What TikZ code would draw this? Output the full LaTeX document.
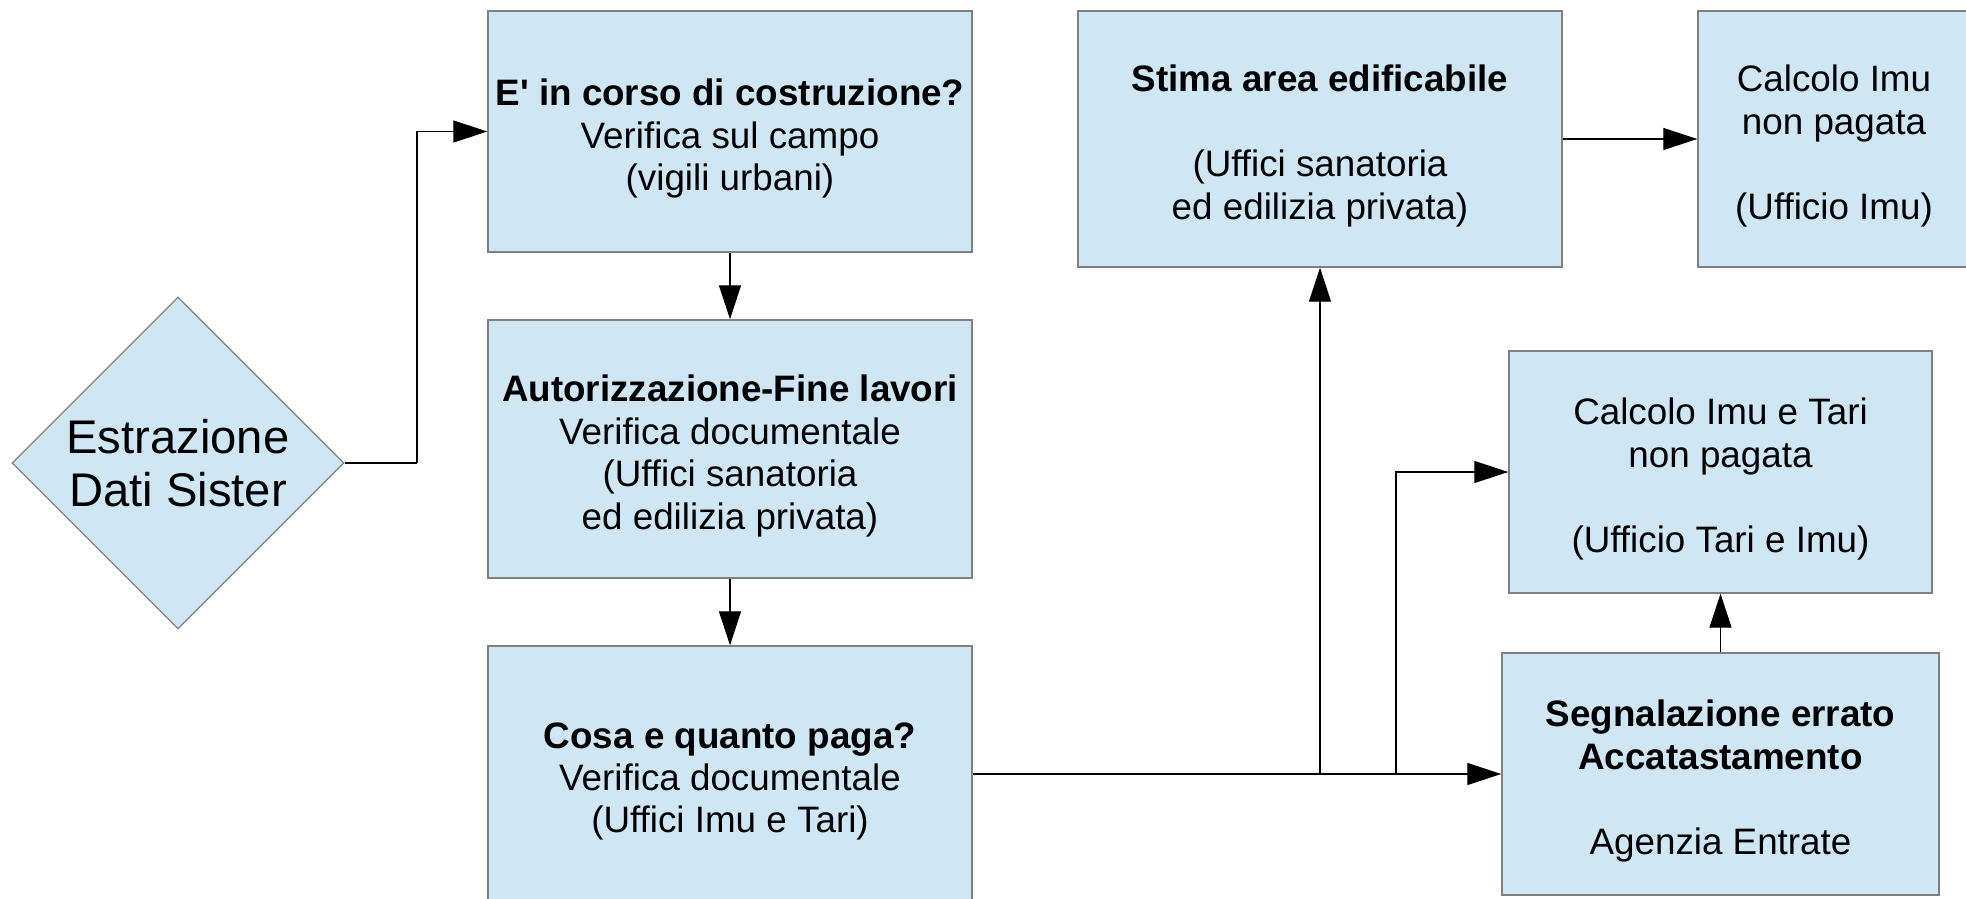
\documentclass[tikz,border=0pt]{standalone}
\usepackage{fontspec}
\setmainfont{Liberation Sans}
\usetikzlibrary{arrows.meta,shapes.geometric}
\definecolor{boxfill}{HTML}{CFE7F5}
\definecolor{boxline}{HTML}{808080}
\newcommand\mytopstrut{\rule{0pt}{20.4pt}}
\newcommand\straightquote{\XeTeXglyph\XeTeXcharglyph"0027\relax}
\tikzset{
  box/.style={draw=boxline, line width=0.7pt, fill=boxfill, inner sep=0pt,
    align=center, font=\fontsize{18.4pt}{21.2pt}\selectfont},
  dia/.style={diamond, draw=boxline, line width=0.6pt, fill=boxfill, inner sep=0pt,
    shape aspect=1, minimum width=166pt, minimum height=166pt, align=center,
    font=\fontsize{23.6pt}{26.5pt}\selectfont},
  conn/.style={draw=black, line width=0.6pt, -{Triangle[length=17pt,width=11pt]}},
  plain/.style={draw=black, line width=0.6pt}
}
\begin{document}
\begin{tikzpicture}[x=0.5pt,y=-0.5pt]
\useasboundingbox (0,0) rectangle (1966,899);
\node[dia] (d) at (178,463) {Estrazione\\Dati Sister};
\node[box, minimum width=242pt, minimum height=120.5pt] (b1) at (730,131.5)
  {\mytopstrut\textbf{E\straightquote{} in corso di costruzione?}\\Verifica sul campo\\(vigili urbani)};
\node[box, minimum width=242pt, minimum height=129pt] (b2) at (730,449)
  {\mytopstrut\textbf{Autorizzazione-Fine lavori}\\Verifica documentale\\(Uffici sanatoria\\ed edilizia privata)};
\node[box, minimum width=242pt, minimum height=128pt] (b3) at (730,774)
  {\mytopstrut\textbf{Cosa e quanto paga?}\\Verifica documentale\\(Uffici Imu e Tari)};
\node[box, minimum width=242pt, minimum height=128pt] (b4) at (1320,139)
  {\mytopstrut\textbf{Stima area edificabile}\\~\\(Uffici sanatoria\\ed edilizia privata)};
\node[box, minimum width=136pt, minimum height=128pt] (b5) at (1834,139)
  {\mytopstrut Calcolo Imu\\non pagata\\~\\(Ufficio Imu)};
\node[box, minimum width=211.5pt, minimum height=121pt] (b6) at (1720.5,472)
  {\mytopstrut Calcolo Imu e Tari\\non pagata\\~\\(Ufficio Tari e Imu)};
\node[box, minimum width=218.5pt, minimum height=121pt] (b7) at (1720.5,774)
  {\mytopstrut\textbf{Segnalazione errato}\\\textbf{Accatastamento}\\~\\Agenzia Entrate};
\coordinate (c1) at (417,463);
\coordinate (j1) at (1320,774);
\coordinate (j2) at (1396,774);
\draw[plain] (d.east) -- (c1);
\draw[conn] (c1) |- (b1.west);
\draw[conn] (b1.south) -- (b2.north);
\draw[conn] (b2.south) -- (b3.north);
\draw[conn] (b3.east) -- (b7.west);
\draw[conn] (j1) -- (b4.south);
\draw[conn] (j2) |- (b6.west);
\draw[conn] (b4.east) -- (b5.west);
\draw[conn] (b7.north) -- (b6.south);
\end{tikzpicture}
\end{document}
